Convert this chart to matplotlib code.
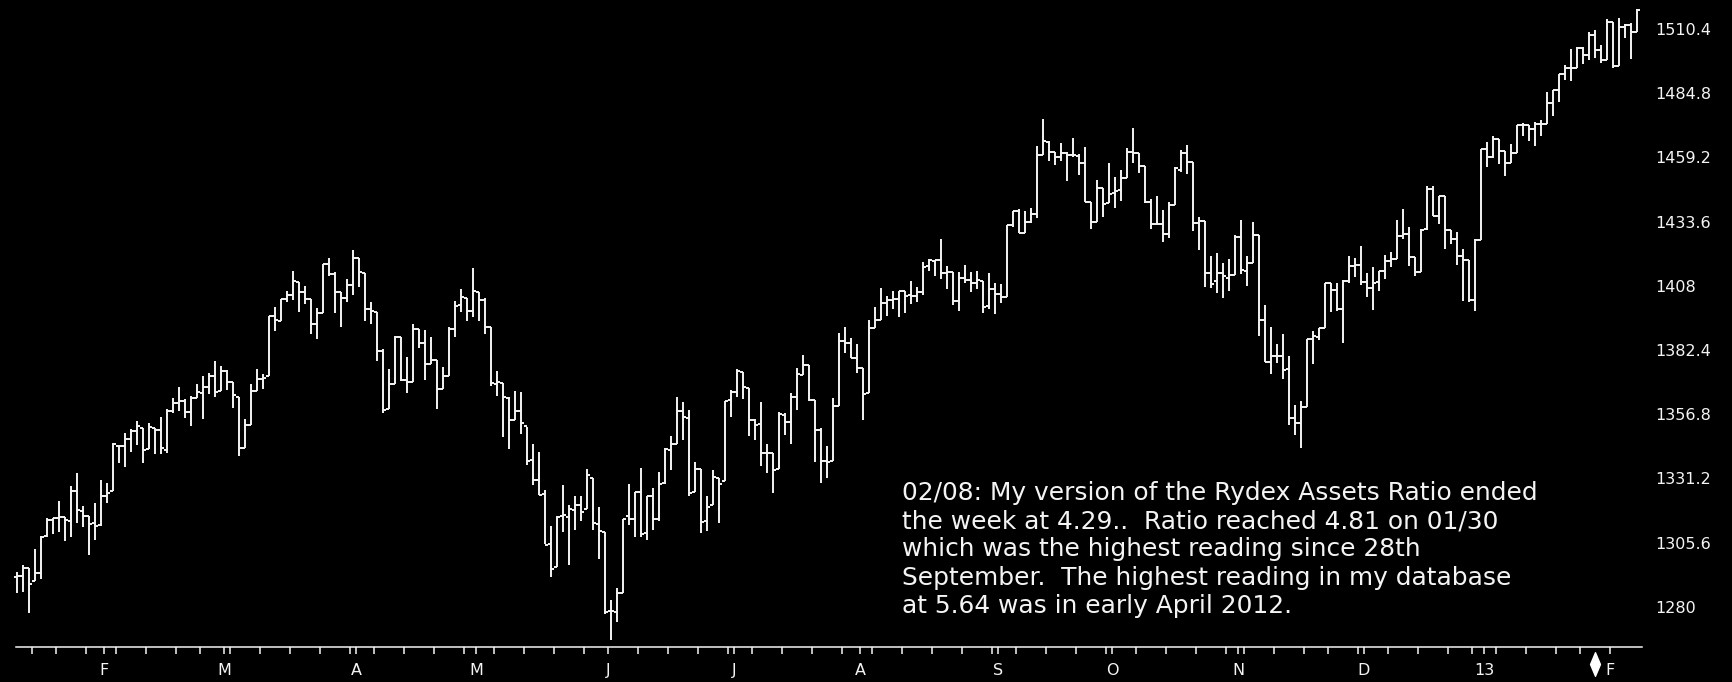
import numpy as np
import pandas as pd
import matplotlib
matplotlib.use("Agg")
import matplotlib.pyplot as plt
import matplotlib.transforms as mtransforms
from matplotlib.collections import LineCollection
from matplotlib.path import Path

# ---------------------------------------------------------------- data
# NYSE sessions from 2012-01-11 through 2013-02-08
market_holidays = ["2012-01-16", "2012-02-20", "2012-04-06", "2012-05-28",
                   "2012-07-04", "2012-09-03", "2012-10-29", "2012-10-30",
                   "2012-11-22", "2012-12-25", "2013-01-01", "2013-01-21"]

# S&P 500 daily bars
opens = [
    # Jan 2012
    1292.02, 1292.48, 1295.50, 1290.22, 1293.65, 1308.07, 1314.49, 1315.29, 1315.96, 1314.40,
    1326.28, 1318.25, 1316.16, 1313.53,
    # Feb
    1312.45, 1324.24, 1326.21, 1344.32, 1344.33, 1347.04, 1349.97, 1351.21, 1343.06, 1351.30,
    1350.52, 1342.61, 1358.06, 1361.22, 1362.11, 1357.53, 1363.46, 1365.20, 1367.56, 1372.20,
    # Mar
    1365.90, 1374.09, 1369.59, 1363.63, 1343.39, 1352.65, 1365.97, 1370.78, 1371.92, 1395.95,
    1394.17, 1402.55, 1404.17, 1409.59, 1405.52, 1402.89, 1392.78, 1397.11, 1416.55, 1412.52,
    1405.39, 1403.31,
    # Apr
    1408.47, 1418.98, 1413.09, 1398.79, 1397.45, 1382.18, 1358.98, 1368.77, 1387.61, 1370.27,
    1369.57, 1390.78, 1385.08, 1376.96, 1378.53, 1366.97, 1372.11, 1390.64, 1400.19, 1403.26,
    # May
    1397.86, 1405.50, 1402.32, 1391.51, 1368.79, 1369.16, 1363.20, 1354.58, 1358.11, 1351.93,
    1338.36, 1330.78, 1324.82, 1305.05, 1295.73, 1316.09, 1316.02, 1318.72, 1320.81, 1318.90,
    1331.25, 1313.09,
    # Jun
    1309.87, 1278.29, 1277.82, 1285.61, 1316.15, 1314.99, 1325.72, 1309.40, 1324.02, 1314.88,
    1329.19, 1342.42, 1344.83, 1357.98, 1355.43, 1325.92, 1334.90, 1314.09, 1320.71, 1331.52,
    1330.12,
    # Jul
    1362.33, 1365.75, 1373.72, 1367.09, 1354.66, 1352.96, 1341.40, 1341.29, 1334.81, 1356.50,
    1353.68, 1363.58, 1372.60, 1376.51, 1362.34, 1350.52, 1338.35, 1338.17, 1360.05, 1385.94,
    1385.27,
    # Aug
    1379.32, 1375.13, 1365.45, 1391.04, 1394.46, 1401.23, 1402.26, 1402.58, 1405.87, 1404.36,
    1403.89, 1405.57, 1415.84, 1417.85, 1418.13, 1413.09, 1413.49, 1401.99, 1411.13, 1410.44,
    1409.32, 1410.08, 1400.07,
    # Sep
    1406.54, 1404.94, 1403.74, 1432.12, 1437.92, 1429.13, 1433.56, 1436.56, 1460.07, 1465.42,
    1461.19, 1459.50, 1461.05, 1460.34, 1459.76, 1456.94, 1441.60, 1433.36, 1447.13,
    # Oct
    1440.90, 1444.99, 1446.05, 1451.08, 1461.40, 1460.93, 1455.90, 1441.48, 1432.82, 1432.84,
    1428.75, 1440.31, 1454.22, 1460.94, 1457.34, 1433.21, 1433.74, 1413.20, 1409.74, 1412.97,
    1410.99,
    # Nov
    1412.20, 1427.59, 1414.02, 1417.26, 1428.27, 1394.53, 1377.55, 1379.86, 1380.03, 1374.64,
    1355.41, 1353.36, 1359.88, 1386.82, 1387.79, 1391.03, 1409.15, 1406.29, 1398.77, 1409.96,
    1415.95,
    # Dec
    1416.34, 1409.46, 1407.05, 1409.43, 1413.95, 1418.07, 1418.55, 1427.84, 1428.48, 1419.45,
    1413.54, 1430.47, 1446.79, 1435.81, 1443.67, 1430.15, 1426.66, 1419.83, 1418.10, 1402.43,
    # Jan 2013
    1426.19, 1462.42, 1459.37, 1466.47, 1461.89, 1457.15, 1461.02, 1472.12, 1472.05, 1470.67,
    1472.33, 1472.63, 1480.95, 1485.98, 1492.56, 1494.81, 1494.82, 1502.96, 1500.18, 1507.84,
    1501.96,
    # Feb 2013
    1498.11, 1513.17, 1495.71, 1511.29, 1512.12, 1509.39,
]

highs = [
    1293.80, 1296.80, 1295.50, 1303.00, 1308.10, 1315.50, 1315.40, 1322.30, 1315.96, 1328.30,
    1333.50, 1320.10, 1316.20, 1321.40,
    1330.50, 1329.20, 1345.30, 1344.40, 1349.20, 1351.00, 1354.30, 1351.20, 1353.40, 1351.30,
    1355.90, 1359.00, 1363.40, 1367.80, 1362.70, 1364.20, 1368.90, 1371.90, 1373.10, 1378.00,
    1376.20, 1374.50, 1369.60, 1363.60, 1354.90, 1368.70, 1374.80, 1373.00, 1396.10, 1399.40,
    1402.60, 1405.90, 1414.00, 1409.60, 1407.80, 1402.90, 1399.20, 1416.60, 1419.20, 1413.70,
    1405.40, 1410.90,
    1422.40, 1419.00, 1413.10, 1401.60, 1397.50, 1383.00, 1374.70, 1388.10, 1387.60, 1379.70,
    1392.80, 1390.80, 1390.50, 1387.40, 1378.50, 1375.60, 1391.40, 1402.10, 1406.60, 1403.30,
    1415.30, 1405.50, 1403.10, 1391.50, 1373.90, 1369.20, 1363.70, 1365.90, 1365.70, 1351.90,
    1344.90, 1341.80, 1326.40, 1312.20, 1316.40, 1328.50, 1320.70, 1324.10, 1324.20, 1334.90,
    1331.30, 1319.70,
    1309.90, 1282.60, 1287.60, 1315.20, 1329.10, 1325.80, 1335.50, 1324.30, 1327.30, 1333.70,
    1343.30, 1348.20, 1363.50, 1361.60, 1358.30, 1337.80, 1334.90, 1324.20, 1334.40, 1331.50,
    1362.20,
    1366.40, 1374.80, 1373.80, 1367.10, 1354.90, 1361.50, 1345.00, 1341.30, 1357.70, 1357.30,
    1365.40, 1375.30, 1380.40, 1376.50, 1362.30, 1351.50, 1343.98, 1363.10, 1389.20, 1391.70,
    1387.20,
    1385.00, 1375.10, 1394.20, 1399.60, 1407.10, 1404.10, 1405.95, 1405.98, 1405.90, 1410.00,
    1407.70, 1417.40, 1418.70, 1418.20, 1426.70, 1416.10, 1413.50, 1413.50, 1416.20, 1413.60,
    1413.95, 1410.10, 1413.10,
    1409.30, 1408.80, 1432.20, 1438.00, 1438.70, 1437.80, 1439.20, 1463.80, 1474.50, 1465.60,
    1461.50, 1465.10, 1461.20, 1467.10, 1460.70, 1463.20, 1441.60, 1450.20, 1447.10,
    1457.10, 1451.50, 1454.30, 1463.10, 1470.96, 1460.93, 1455.90, 1442.50, 1443.90, 1438.40,
    1441.30, 1455.50, 1462.20, 1464.00, 1457.34, 1435.50, 1433.70, 1420.00, 1421.10, 1417.10,
    1418.80,
    1428.30, 1434.30, 1419.90, 1433.40, 1428.30, 1400.30, 1391.40, 1384.90, 1388.80, 1380.10,
    1360.60, 1362.00, 1386.90, 1389.80, 1391.30, 1409.20, 1409.20, 1409.00, 1410.30, 1419.70,
    1418.90,
    1423.70, 1413.10, 1415.60, 1413.95, 1420.30, 1421.60, 1434.30, 1438.60, 1431.40, 1419.50,
    1430.70, 1448.00, 1447.75, 1443.70, 1443.70, 1430.15, 1429.40, 1422.80, 1418.10, 1426.70,
    1462.40, 1465.50, 1467.90, 1466.50, 1461.90, 1464.70, 1472.30, 1472.80, 1472.05, 1473.30,
    1473.96, 1485.20, 1485.98, 1492.60, 1496.10, 1502.30, 1503.30, 1503.20, 1509.30, 1509.90,
    1504.20,
    1514.40, 1513.17, 1514.96, 1512.50, 1512.90, 1518.30,
]

lows = [
    1285.40, 1285.80, 1277.60, 1290.20, 1290.99, 1308.00, 1309.20, 1309.90, 1306.10, 1307.70,
    1313.60, 1311.70, 1300.50, 1306.70,
    1312.40, 1321.60, 1326.20, 1337.50, 1335.90, 1341.90, 1344.40, 1337.40, 1343.00, 1340.80,
    1340.80, 1341.20, 1357.20, 1358.10, 1355.50, 1352.30, 1363.40, 1354.90, 1365.00, 1363.80,
    1365.90, 1366.40, 1359.10, 1340.00, 1343.30, 1352.60, 1365.90, 1366.70, 1371.90, 1389.97,
    1394.10, 1401.50, 1402.40, 1397.70, 1400.60, 1388.70, 1386.90, 1397.10, 1411.95, 1397.20,
    1391.60, 1401.40,
    1404.50, 1407.50, 1394.10, 1392.90, 1378.20, 1357.40, 1358.90, 1368.70, 1369.90, 1365.40,
    1369.50, 1383.30, 1370.30, 1376.96, 1358.80, 1366.80, 1372.10, 1387.40, 1397.70, 1394.00,
    1395.70, 1393.90, 1388.90, 1367.96, 1363.90, 1347.80, 1343.10, 1354.50, 1348.90, 1336.60,
    1328.50, 1324.80, 1304.90, 1291.98, 1295.70, 1310.00, 1296.50, 1310.50, 1314.20, 1318.90,
    1310.80, 1298.90,
    1277.30, 1266.70, 1274.00, 1285.60, 1312.70, 1307.80, 1307.70, 1306.60, 1310.50, 1314.10,
    1329.10, 1334.50, 1344.80, 1346.50, 1324.40, 1325.90, 1309.30, 1310.30, 1320.70, 1313.30,
    1330.10,
    1355.70, 1363.50, 1363.00, 1348.00, 1346.70, 1336.30, 1333.20, 1325.40, 1334.80, 1348.50,
    1345.10, 1358.60, 1372.60, 1362.20, 1337.60, 1329.20, 1331.50, 1338.20, 1360.05, 1381.40,
    1379.20,
    1373.10, 1354.70, 1365.40, 1391.00, 1394.40, 1396.10, 1398.80, 1395.60, 1397.30, 1400.60,
    1401.60, 1404.20, 1414.10, 1412.10, 1410.90, 1406.80, 1400.50, 1398.00, 1409.10, 1405.60,
    1406.60, 1397.00, 1398.96,
    1396.60, 1401.20, 1403.70, 1431.40, 1429.00, 1429.10, 1432.99, 1435.00, 1460.00, 1457.60,
    1456.10, 1457.90, 1449.98, 1459.50, 1452.10, 1441.60, 1430.50, 1433.30, 1435.60,
    1440.90, 1439.00, 1441.99, 1451.00, 1456.90, 1453.10, 1441.20, 1430.60, 1432.80, 1425.50,
    1427.20, 1440.30, 1453.40, 1452.60, 1429.85, 1422.10, 1407.60, 1407.10, 1405.10, 1403.30,
    1405.95,
    1412.20, 1412.90, 1408.10, 1417.20, 1388.10, 1377.50, 1373.00, 1377.20, 1370.99, 1352.50,
    1348.60, 1343.35, 1359.80, 1377.00, 1386.60, 1391.00, 1397.70, 1398.00, 1385.40, 1409.00,
    1411.60,
    1408.50, 1403.60, 1398.20, 1405.90, 1410.90, 1415.60, 1418.50, 1426.80, 1416.00, 1411.90,
    1413.50, 1430.40, 1435.80, 1432.80, 1422.60, 1424.70, 1416.40, 1401.80, 1401.60, 1398.10,
    1426.10, 1455.50, 1458.99, 1456.60, 1451.60, 1457.15, 1461.00, 1467.60, 1465.70, 1463.70,
    1467.60, 1472.60, 1475.80, 1481.20, 1489.90, 1489.50, 1494.80, 1496.30, 1498.10, 1499.00,
    1496.80,
    1498.10, 1495.00, 1495.70, 1506.99, 1498.50, 1509.30,
]

closes = [
    1292.48, 1295.50, 1289.09, 1293.67, 1308.04, 1314.50, 1315.38, 1316.00, 1314.65, 1326.06,
    1318.43, 1316.33, 1313.01, 1312.41,
    1324.09, 1325.54, 1344.90, 1344.33, 1347.05, 1349.96, 1351.95, 1342.64, 1351.77, 1350.50,
    1343.23, 1358.04, 1361.23, 1362.21, 1357.66, 1363.46, 1365.74, 1367.59, 1372.18, 1365.68,
    1374.09, 1369.63, 1364.33, 1343.36, 1352.63, 1365.91, 1370.87, 1371.09, 1395.95, 1394.28,
    1402.60, 1404.17, 1409.75, 1405.52, 1402.89, 1392.78, 1397.11, 1416.51, 1412.52, 1405.54,
    1403.28, 1408.47,
    1419.04, 1413.38, 1398.96, 1398.08, 1382.20, 1358.59, 1368.71, 1387.57, 1370.26, 1369.57,
    1390.78, 1385.14, 1376.92, 1378.53, 1366.94, 1371.97, 1390.69, 1399.98, 1403.36, 1397.91,
    1405.82, 1402.31, 1391.57, 1369.10, 1369.58, 1363.72, 1354.58, 1357.99, 1353.39, 1338.35,
    1330.66, 1324.80, 1304.86, 1295.22, 1315.99, 1316.63, 1318.86, 1320.68, 1317.82, 1332.42,
    1313.32, 1310.33,
    1278.04, 1278.18, 1285.50, 1315.13, 1314.99, 1325.66, 1308.93, 1324.18, 1314.88, 1329.10,
    1342.84, 1344.78, 1357.98, 1355.69, 1325.51, 1335.02, 1313.72, 1319.99, 1331.85, 1329.04,
    1362.16,
    1365.51, 1374.02, 1367.58, 1354.68, 1352.46, 1341.47, 1341.45, 1334.76, 1356.78, 1353.64,
    1363.67, 1372.78, 1376.51, 1362.66, 1350.52, 1338.31, 1337.89, 1360.02, 1385.97, 1385.30,
    1379.32,
    1375.32, 1365.00, 1390.99, 1394.23, 1401.35, 1402.22, 1402.80, 1405.87, 1404.11, 1403.93,
    1405.53, 1415.51, 1418.16, 1418.13, 1413.17, 1413.49, 1402.08, 1411.13, 1410.44, 1409.30,
    1410.49, 1399.48, 1406.58,
    1404.94, 1403.44, 1432.12, 1437.92, 1429.08, 1433.56, 1436.56, 1459.99, 1465.77, 1461.19,
    1459.32, 1461.05, 1460.26, 1460.15, 1456.89, 1441.59, 1433.32, 1447.15, 1440.67,
    1444.49, 1445.75, 1450.99, 1461.40, 1460.93, 1455.88, 1441.48, 1432.56, 1432.84, 1428.59,
    1440.13, 1454.92, 1460.91, 1457.34, 1433.19, 1433.82, 1413.11, 1408.75, 1412.97, 1411.94,
    1412.16,
    1427.59, 1414.20, 1417.26, 1428.39, 1394.53, 1377.51, 1379.85, 1380.03, 1374.53, 1355.49,
    1353.33, 1359.88, 1386.89, 1387.81, 1391.03, 1409.15, 1406.29, 1398.94, 1409.93, 1415.95,
    1416.18,
    1409.46, 1407.05, 1409.28, 1413.94, 1418.07, 1418.55, 1427.84, 1428.48, 1419.45, 1413.58,
    1430.36, 1446.79, 1435.81, 1443.69, 1430.15, 1426.66, 1419.83, 1418.10, 1402.43, 1426.19,
    1462.42, 1459.37, 1466.47, 1461.89, 1457.15, 1461.02, 1472.12, 1472.05, 1470.68, 1472.34,
    1472.63, 1480.94, 1485.98, 1492.56, 1494.81, 1494.82, 1502.96, 1500.18, 1507.84, 1501.96,
    1498.11,
    1513.17, 1495.71, 1511.29, 1512.12, 1509.39, 1517.93,
]

price_ticks = [1280.0, 1305.6, 1331.2, 1356.8, 1382.4, 1408.0, 1433.6, 1459.2, 1484.8, 1510.4]
price_labels = ["1280", "1305.6", "1331.2", "1356.8", "1382.4",
                "1408", "1433.6", "1459.2", "1484.8", "1510.4"]
month_labels = ["F", "M", "A", "M", "J", "J", "A", "S", "O", "N", "D", "13", "F"]
marked_session = "2013-01-30"

note_lines = [
    "02/08: My version of the Rydex Assets Ratio ended",
    "the week at 4.29..  Ratio reached 4.81 on 01/30",
    "which was the highest reading since 28th",
    "September.  The highest reading in my database",
    "at 5.64 was in early April 2012.",
]

# ---------------------------------------------------------------- layout
sessions = pd.bdate_range("2012-01-11", "2013-02-08", freq="C",
                          holidays=market_holidays)
n = len(sessions)
assert n == len(opens) == len(highs) == len(lows) == len(closes)
xs = np.arange(n)

W, H = 1733, 682
FG = "#f4f4f4"
fig = plt.figure(figsize=(W / 100, H / 100), dpi=100, facecolor="black")
ax_left, ax_right, ax_bottom = 16, 1642, 647          # pixel frame of the plot
ax = fig.add_axes([ax_left / W, (H - ax_bottom) / H,
                   (ax_right - ax_left) / W, ax_bottom / H])
ax.set_facecolor("black")

# OHLC bars: vertical high-low line, open tick left, close tick right
half = 0.5
segs = []
for x, o, h, l, c in zip(xs, opens, highs, lows, closes):
    segs.append([(x, l), (x, h)])
    segs.append([(x - half, o), (x, o)])
    segs.append([(x, c), (x + half, c)])
bars = LineCollection(segs, colors=FG, linewidths=1.4, capstyle="butt",
                      clip_on=False)
ax.add_collection(bars)

ax.set_xlim(-1 / 6, (ax_right - ax_left) / 6 - 1 / 6)
ax.set_ylim(1264.0, 1521.96)

# price scale on the right, labels only
ax.yaxis.tick_right()
ax.set_yticks(price_ticks)
ax.set_yticklabels(price_labels)
ax.tick_params(axis="y", length=0, pad=9.5, labelsize=11.5, labelcolor=FG)

# time axis: month marks (labelled) and weekly marks
month_first = pd.Series(xs, index=sessions).groupby(
    [sessions.year, sessions.month]).first().values[1:]
week_first = pd.Series(xs, index=sessions).groupby(
    sessions.to_period("W")).first().values[1:]
ax.set_xticks(month_first + 0.5)
ax.set_xticklabels(month_labels)
ax.set_xticks(week_first - 0.5, minor=True)
ax.tick_params(axis="x", which="both", direction="out", length=5.2,
               width=1.1, color=FG, labelcolor=FG, labelsize=11.5, pad=6.5)

for side in ("top", "left", "right"):
    ax.spines[side].set_visible(False)
ax.spines["bottom"].set_color(FG)
ax.spines["bottom"].set_linewidth(1.1)

# marker under the axis for the dated reading
diamond = Path([(0, 1), (0.42, 0), (0, -1), (-0.42, 0), (0, 1)],
               [Path.MOVETO, Path.LINETO, Path.LINETO, Path.LINETO, Path.CLOSEPOLY])
mark_x = sessions.get_loc(pd.Timestamp(marked_session))
trans = mtransforms.blended_transform_factory(ax.transData, ax.transAxes)
ax.plot([mark_x], [-0.026], marker=diamond, markersize=17, color="white",
        transform=trans, clip_on=False, linestyle="none")

# commentary block
fig.text(902 / W, 1 - 481 / H, "\n".join(note_lines), ha="left", va="top",
         color=FG, fontsize=17.9, linespacing=1.22, family="DejaVu Sans")

fig.savefig("out.png", dpi=100, facecolor="black")
